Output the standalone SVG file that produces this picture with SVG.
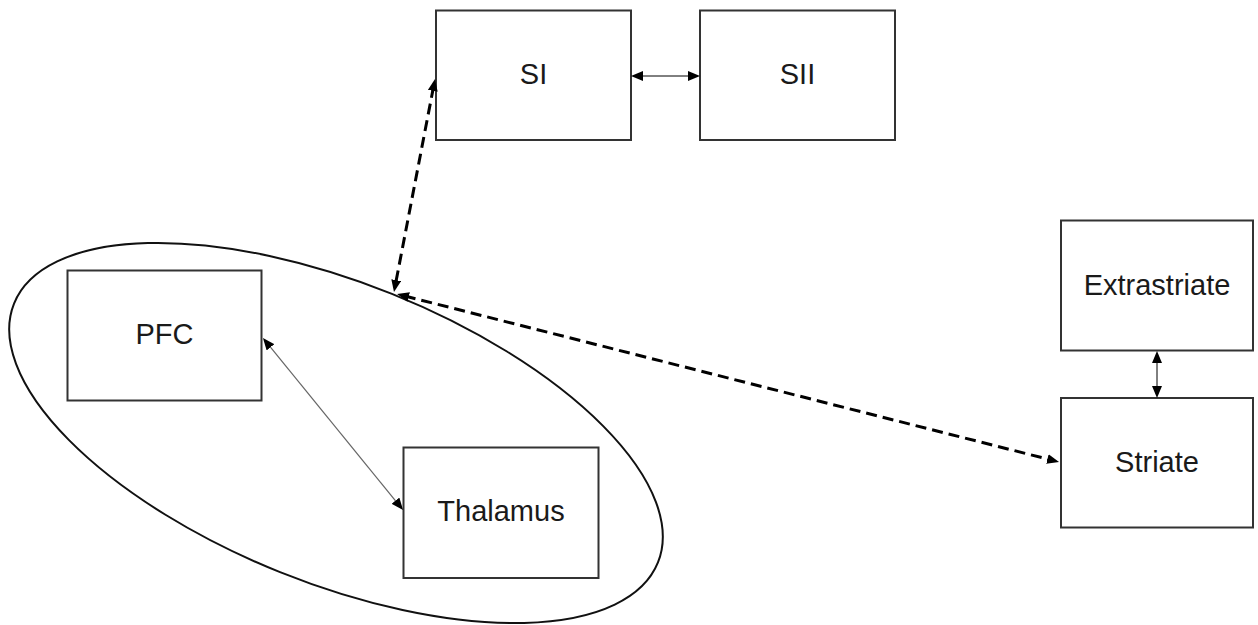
<svg xmlns="http://www.w3.org/2000/svg" width="1258" height="625" viewBox="0 0 1258 625">
<style>
.box{fill:#fff;stroke:#333;stroke-width:2}
.lbl{font-family:"Liberation Sans",Arial,sans-serif;font-size:29px;fill:#1a1a1a;text-anchor:middle}
.solid{stroke:#000;stroke-width:1;fill:none}
.gray{stroke:#666;stroke-width:1.2;fill:none}
.dash{stroke:#000;stroke-width:3;stroke-dasharray:11 6;fill:none}
</style>
<defs>
<marker id="ah" viewBox="0 0 12 10" refX="4" refY="5" markerWidth="12" markerHeight="10" markerUnits="userSpaceOnUse" orient="auto-start-reverse">
<path d="M0,0 L12,5 L0,10 z" fill="#000"/>
</marker>
</defs>
<rect width="1258" height="625" fill="#fff"/>
<g id="group-ellipse">
<ellipse cx="336" cy="433" rx="347" ry="150" transform="rotate(21.9 336 433)" fill="none" stroke="#111" stroke-width="2"/>
</g>
<g id="node-SI"><rect class="box" x="436" y="10.5" width="195" height="129.5"/><text class="lbl" x="533.5" y="84">SI</text></g>
<g id="node-SII"><rect class="box" x="700" y="10.5" width="195" height="129.5"/><text class="lbl" x="797.5" y="84">SII</text></g>
<g id="node-PFC"><rect class="box" x="67.5" y="270.5" width="194" height="130"/><text class="lbl" x="164.5" y="343.5">PFC</text></g>
<g id="node-Thalamus"><rect class="box" x="403.5" y="447.5" width="195" height="130.5"/><text class="lbl" x="501" y="521">Thalamus</text></g>
<g id="node-Extrastriate"><rect class="box" x="1061" y="220.5" width="192" height="130"/><text class="lbl" x="1157" y="295">Extrastriate</text></g>
<g id="node-Striate"><rect class="box" x="1061" y="398" width="192" height="129.5"/><text class="lbl" x="1157" y="472">Striate</text></g>
<g id="connectors">
<line class="solid" x1="639" y1="76" x2="692" y2="76" marker-start="url(#ah)" marker-end="url(#ah)"/>
<line class="solid" x1="1157" y1="359" x2="1157" y2="390" marker-start="url(#ah)" marker-end="url(#ah)"/>
<line class="gray" x1="268" y1="344.2" x2="398" y2="503.8" marker-start="url(#ah)" marker-end="url(#ah)"/>
<line class="dash" x1="433.5" y1="86.9" x2="395.5" y2="284.1" marker-start="url(#ah)" marker-end="url(#ah)"/>
<line class="dash" x1="404.8" y1="296" x2="1051.3" y2="460" marker-start="url(#ah)" marker-end="url(#ah)"/>
</g>
</svg>
